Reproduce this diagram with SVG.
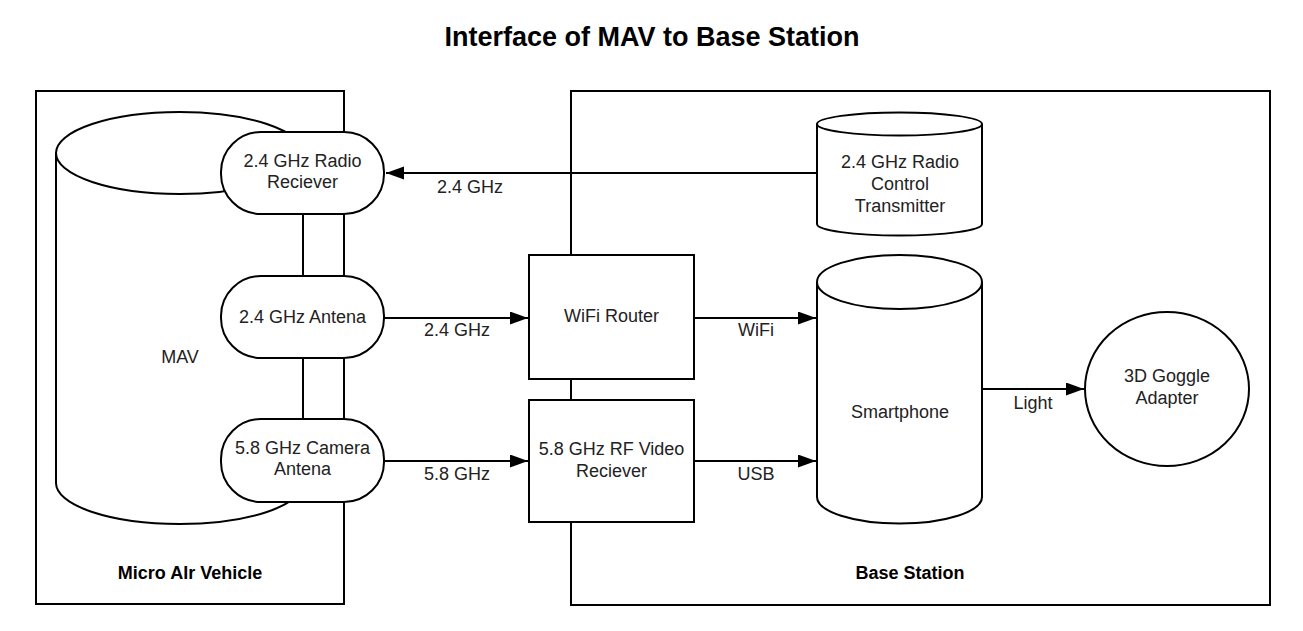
<svg xmlns="http://www.w3.org/2000/svg" width="1303" height="631" viewBox="0 0 1303 631">
<style>
.s{fill:#fff;stroke:#000;stroke-width:2}
.c{fill:none;stroke:#000;stroke-width:2}
.t{font-family:"Liberation Sans",Arial,sans-serif;font-size:18px;fill:#222;text-anchor:middle}
.b{font-family:"Liberation Sans",Arial,sans-serif;font-size:18px;font-weight:bold;fill:#000;text-anchor:middle}
</style>
<defs>
<marker id="ah" markerUnits="userSpaceOnUse" markerWidth="20" markerHeight="14" refX="18" refY="6.5" orient="auto">
<path d="M0,0 L18,6.5 L0,13 Z" fill="#000"/>
</marker>
</defs>
<rect width="1303" height="631" fill="#fff"/>
<text x="652" y="46" style="font-family:'Liberation Sans',Arial,sans-serif;font-size:27px;font-weight:bold;fill:#000;text-anchor:middle">Interface of MAV to Base Station</text>

<g id="micro-air-vehicle">
<rect class="c" x="36" y="91" width="308" height="513"/>
<text class="b" x="190" y="579">Micro AIr Vehicle</text>
</g>
<g id="base-station">
<rect class="c" x="571" y="91" width="699" height="514"/>
<text class="b" x="910" y="579">Base Station</text>
</g>

<g id="mav">
<path class="s" d="M56,153 L56,483 A123.5,41 0 0 0 303,483 L303,153"/>
<ellipse class="s" cx="179.5" cy="153" rx="123.5" ry="41"/>
<text class="t" x="180" y="363">MAV</text>
</g>

<g id="connectors">
<line class="c" x1="817" y1="173" x2="386" y2="173" marker-end="url(#ah)"/>
<text class="t" x="470" y="193">2.4 GHz</text>
<line class="c" x1="384" y1="318" x2="528" y2="318" marker-end="url(#ah)"/>
<text class="t" x="457" y="336">2.4 GHz</text>
<line class="c" x1="694" y1="318" x2="816" y2="318" marker-end="url(#ah)"/>
<text class="t" x="756" y="336">WiFi</text>
<line class="c" x1="384" y1="461" x2="528" y2="461" marker-end="url(#ah)"/>
<text class="t" x="457" y="480">5.8 GHz</text>
<line class="c" x1="694" y1="461" x2="816" y2="461" marker-end="url(#ah)"/>
<text class="t" x="756" y="480">USB</text>
<line class="c" x1="982" y1="389" x2="1084" y2="389" marker-end="url(#ah)"/>
<text class="t" x="1033" y="409">Light</text>
</g>

<g id="radio-receiver">
<rect class="s" x="221" y="132" width="163" height="82" rx="40" ry="40"/>
<text class="t" x="302.5" y="167">2.4 GHz Radio</text>
<text class="t" x="302.5" y="188">Reciever</text>
</g>
<g id="antenna">
<rect class="s" x="221" y="276" width="163" height="82" rx="40" ry="40"/>
<text class="t" x="302.5" y="323">2.4 GHz Antena</text>
</g>
<g id="camera-antenna">
<rect class="s" x="221" y="419" width="163" height="83" rx="40" ry="40"/>
<text class="t" x="302.5" y="454">5.8 GHz Camera</text>
<text class="t" x="302.5" y="475">Antena</text>
</g>

<g id="wifi-router">
<rect class="s" x="529" y="255" width="165" height="124"/>
<text class="t" x="611.5" y="322">WiFi Router</text>
</g>
<g id="video-receiver">
<rect class="s" x="529" y="400" width="165" height="122"/>
<text class="t" x="611.5" y="455">5.8 GHz RF Video</text>
<text class="t" x="611.5" y="477">Reciever</text>
</g>

<g id="transmitter">
<path class="s" d="M817,124 L817,224 A82.5,11.5 0 0 0 982,224 L982,124"/>
<ellipse class="s" cx="899.5" cy="124" rx="82.5" ry="11.5"/>
<text class="t" x="900" y="168">2.4 GHz Radio</text>
<text class="t" x="900" y="190">Control</text>
<text class="t" x="900" y="212">Transmitter</text>
</g>
<g id="smartphone">
<path class="s" d="M817,282 L817,497 A82.5,26.5 0 0 0 982,497 L982,282"/>
<ellipse class="s" cx="899.5" cy="282" rx="82.5" ry="27"/>
<text class="t" x="900" y="418">Smartphone</text>
</g>
<g id="goggle-adapter">
<ellipse class="s" cx="1167" cy="389" rx="82" ry="77"/>
<text class="t" x="1167" y="382">3D Goggle</text>
<text class="t" x="1167" y="404">Adapter</text>
</g>
</svg>
